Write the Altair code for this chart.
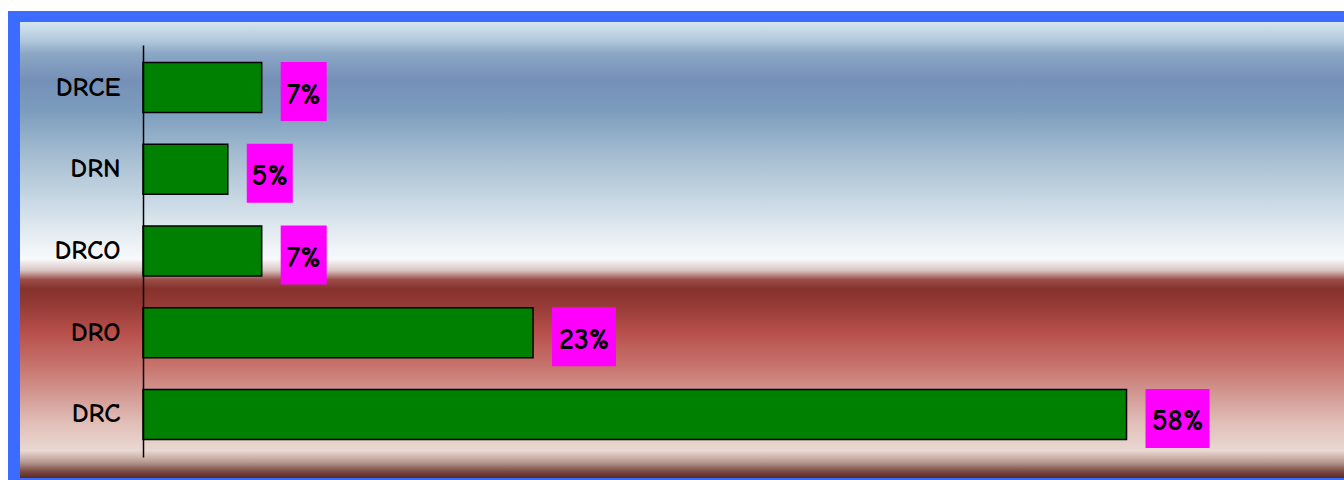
import altair as alt
import pandas as pd

# Share of each department
categories = ["DRCE", "DRN", "DRCO", "DRO", "DRC"]
shares = [7, 5, 7, 23, 58]

df = pd.DataFrame({"cat": categories, "value": shares})

W, H = 1187, 412
X_MAX = 70
PX_PER_UNIT = W / X_MAX
GAP_PX = 19

FONT = "Comic Sans MS, Comic Neue, DejaVu Sans"
AXIS_FONT_SIZE = 27
LABEL_FONT_SIZE = 30

x_scale = alt.Scale(domain=[0, X_MAX], nice=False, zero=True)
y_scale = alt.Scale(domain=categories, paddingInner=0.388, paddingOuter=0.214)

one = pd.DataFrame({"k": [0]})

# Blue frame behind everything
frame = alt.Chart(one).mark_rect(color="#3b6bff").encode(
    x=alt.value(-135), x2=alt.value(1215),
    y=alt.value(-34), y2=alt.value(445),
)

# Sky-and-earth gradient panel
stops = [
    ("#d6e5f0", 0.0), ("#b2c9dc", 0.04), ("#8aa6c4", 0.07), ("#7690b8", 0.127),
    ("#7b9cbd", 0.193), ("#a7bfd2", 0.30), ("#c8d8e4", 0.39), ("#eaf0f4", 0.48),
    ("#f8fafb", 0.52), ("#d9c3c1", 0.545), ("#9a4d48", 0.565), ("#85322d", 0.585),
    ("#953a36", 0.62), ("#b8504c", 0.682), ("#c8756f", 0.757), ("#d5a09a", 0.829),
    ("#e1bfb8", 0.88), ("#ead8d2", 0.94), ("#b89a92", 0.965), ("#7a4c44", 0.985),
    ("#5a2a22", 1.0),
]
grad = alt.LinearGradient(
    gradient="linear",
    stops=[alt.GradientStop(color=c, offset=o) for c, o in stops],
    x1=0, x2=0, y1=0, y2=1,
)
panel = alt.Chart(one).mark_rect(color=grad).encode(
    x=alt.value(-123), x2=alt.value(1215),
    y=alt.value(-23), y2=alt.value(433),
)

base = alt.Chart(df).transform_calculate(
    label="format(datum.value, 'd') + '%'"
).transform_calculate(
    box_start=f"datum.value + {GAP_PX} / {PX_PER_UNIT}",
    box_end=f"datum.value + ({GAP_PX} + 10 + 18 * length(datum.label)) / {PX_PER_UNIT}",
).transform_calculate(
    mid="(datum.box_start + datum.box_end) / 2"
)

bars = base.mark_bar(color="#008000", stroke="black", strokeWidth=1.5).encode(
    x=alt.X("value:Q", scale=x_scale, axis=None),
    y=alt.Y(
        "cat:N", scale=y_scale, sort=categories, title=None,
        axis=alt.Axis(
            domain=True, domainColor="black", domainWidth=1.5, ticks=False,
            grid=False, labelPadding=23, labelFont=FONT, labelFontSize=AXIS_FONT_SIZE,
            labelFontWeight="bold", labelColor="black", zindex=1,
        ),
    ),
)

boxes = base.mark_bar(color="#ff00ff", height=59, yOffset=4).encode(
    x=alt.X("box_start:Q", scale=x_scale, axis=None),
    x2="box_end:Q",
    y=alt.Y("cat:N", scale=y_scale, sort=categories),
)

labels = base.mark_text(
    font=FONT, fontSize=LABEL_FONT_SIZE, fontWeight="bold", color="black",
    baseline="middle", align="center", dy=7,
).encode(
    x=alt.X("mid:Q", scale=x_scale, axis=None),
    y=alt.Y("cat:N", scale=y_scale, sort=categories),
    text="label:N",
)

chart = alt.layer(frame, panel, bars, boxes, labels).properties(
    width=W, height=H,
    padding={"left": 143, "top": 45, "right": 14, "bottom": 23},
    autosize=alt.AutoSizeParams(type="none"),
    background="white",
).configure_view(stroke=None)

chart.save("out.html", embed_options={"renderer": "svg", "actions": False})
